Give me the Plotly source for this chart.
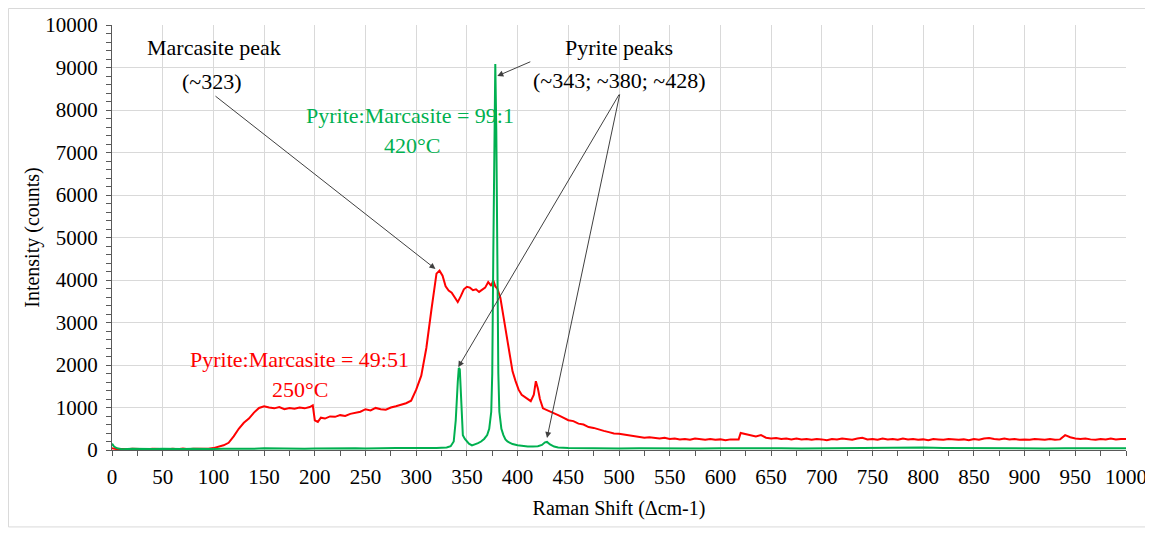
import plotly.graph_objects as go

# ---------------- data ----------------
red_x = [0, 5, 10, 15, 20, 25, 30, 35, 40, 45, 50, 55, 60, 65, 70, 75, 80, 85, 90, 95,
         100, 105, 110, 115, 120, 125, 130, 135, 140, 145, 150, 155, 160, 165, 170, 175,
         180, 185, 190, 195, 198, 200, 203, 206, 210, 215, 220, 225, 230, 235, 240, 245,
         250, 255, 260, 265, 270, 275, 280, 285, 290, 295, 300, 305, 310, 315, 318, 320,
         323, 326, 329, 332, 335, 338, 341, 344, 347, 350, 353, 356, 359, 362, 365, 368,
         371, 374, 376, 378, 380, 383, 386, 389, 392, 395, 398, 401, 404, 407, 410, 413,
         416, 418, 420, 422, 425, 430, 435, 440, 445, 450, 455, 460, 465, 470, 475, 480,
         485, 490, 495, 500, 505, 510, 515, 520, 525, 530, 535, 540, 545, 550, 555, 560,
         565, 570, 575, 580, 585, 590, 595, 600, 605, 610, 615, 618, 620, 625, 630, 635,
         640, 645, 650, 655, 660, 665, 670, 675, 680, 685, 690, 695, 700, 705, 710, 715,
         720, 725, 730, 735, 740, 745, 750, 755, 760, 765, 770, 775, 780, 785, 790, 795,
         800, 805, 810, 815, 820, 825, 830, 835, 840, 845, 850, 855, 860, 865, 870, 875,
         880, 885, 890, 895, 900, 905, 910, 915, 920, 925, 930, 935, 940, 945, 950, 955,
         960, 965, 970, 975, 980, 985, 990, 995, 1000]
red_y = [40, 20, 25, 15, 30, 20, 25, 15, 30, 20, 25, 15, 30, 20, 35, 20, 30, 25, 35, 30,
         45, 70, 110, 170, 320, 500, 640, 740, 880, 990, 1030, 1000, 980, 1010, 960, 990,
         970, 1000, 980, 1010, 1050, 700, 660, 760, 740, 790, 780, 820, 800, 850, 870, 900,
         960, 930, 990, 960, 950, 1000, 1030, 1060, 1100, 1160, 1420, 1750, 2400, 3300, 3800, 4150,
         4220, 4100, 3850, 3750, 3700, 3600, 3480, 3620, 3780, 3840, 3820, 3760, 3780, 3720, 3760, 3820,
         3950, 3860, 3990, 3850, 3800, 3580, 3150, 2700, 2250, 1850, 1620, 1420, 1300, 1250, 1200, 1150,
         1300, 1620, 1450, 1200, 980, 930, 880, 820, 760, 700, 680, 620, 600, 540, 520, 480,
         450, 420, 390, 380, 360, 340, 330, 300, 290, 300, 280, 270, 290, 260, 270, 250,
         260, 240, 270, 250, 240, 260, 240, 250, 230, 250, 240, 250, 400, 370, 340, 320,
         350, 290, 270, 280, 260, 270, 250, 270, 250, 260, 240, 260, 250, 230, 260, 250,
         270, 250, 240, 270, 290, 250, 260, 240, 270, 250, 260, 240, 270, 250, 260, 240,
         250, 230, 260, 250, 240, 260, 250, 240, 250, 230, 260, 240, 270, 280, 260, 250,
         270, 250, 260, 240, 250, 240, 260, 250, 240, 260, 240, 250, 350, 300, 270, 260,
         270, 250, 240, 260, 250, 270, 250, 260, 260]

green_x = [0, 2, 5, 10, 20, 30, 40, 50, 60, 70, 80, 90, 100, 110, 120, 130, 140, 150,
           160, 170, 180, 190, 200, 210, 220, 230, 240, 250, 260, 270, 280, 290, 300,
           310, 320, 330, 334, 337, 339, 341, 342, 343, 344, 345, 346, 348, 350, 352,
           355, 358, 361, 364, 367, 370, 372, 374, 375, 376, 377, 378, 379, 380, 381,
           382, 384, 386, 388, 390, 395, 400, 405, 410, 415, 420, 424, 427, 429, 432,
           436, 440, 450, 460, 470, 480, 490, 500, 520, 540, 560, 580, 600, 620, 640,
           660, 680, 700, 720, 740, 760, 780, 800, 820, 840, 860, 880, 900, 920, 940,
           960, 980, 1000]
green_y = [150, 80, 40, 20, 30, 20, 25, 30, 20, 25, 30, 20, 25, 30, 25, 35, 30, 40,
           35, 30, 40, 30, 35, 40, 30, 45, 40, 35, 45, 40, 50, 45, 40,
           50, 45, 60, 90, 200, 700, 1600, 1930, 1900, 1400, 700, 350, 260, 200, 150,
           110, 130, 160, 200, 260, 350, 500, 900, 1800, 4500, 7800, 9080, 7500, 4000, 1800,
           900, 500, 350, 250, 200, 140, 110, 90, 80, 80, 90, 120, 180, 190, 130,
           80, 60, 50, 45, 40, 45, 40, 35, 40, 35, 40, 35, 40, 45, 35,
           40, 35, 40, 45, 40, 50, 55, 60, 50, 45, 40, 35, 40, 35, 40,
           35, 40, 40]

x_ticks = list(range(0, 1001, 50))
y_ticks = list(range(0, 10001, 1000))

RED = "#FF0000"
GREEN = "#00B050"
FONT = "Liberation Serif"

fig = go.Figure()
fig.add_trace(go.Scatter(x=red_x, y=red_y, mode="lines",
                         line=dict(color=RED, width=2), showlegend=False))
fig.add_trace(go.Scatter(x=green_x, y=green_y, mode="lines",
                         line=dict(color=GREEN, width=2), showlegend=False))

def label(x, y, text, color="black", size=22):
    fig.add_annotation(x=x, y=y, xref="x", yref="y", text=text, showarrow=False,
                       font=dict(family=FONT, size=size, color=color),
                       xanchor="center", yanchor="middle")

def arrow(x0, y0, x1, y1):
    fig.add_annotation(x=x1, y=y1, ax=x0, ay=y0, xref="x", yref="y",
                       axref="x", ayref="y", text="", showarrow=True,
                       arrowhead=2, arrowsize=1.2, arrowwidth=1,
                       arrowcolor="#404040")

label(100.6, 9459, "Marcasite peak")
label(99, 8682, "(~323)")
label(500, 9459, "Pyrite peaks")
label(500, 8706, "(~343; ~380; ~428)")
label(294, 7882, "Pyrite:Marcasite = 99:1", GREEN)
label(296, 7176, "420°C", GREEN)
label(185, 2118, "Pyrite:Marcasite = 49:51", RED)
label(185, 1412, "250°C", RED)

arrow(100.6, 8353, 319, 4260)
arrow(501, 8400, 341.5, 1950)
arrow(501, 8400, 429, 280)
arrow(414, 9150, 380, 8800)

axis_common = dict(
    showline=True, linecolor="#595959", linewidth=1,
    showgrid=True, gridcolor="#D9D9D9", gridwidth=1,
    ticks="outside", ticklen=5, tickcolor="#595959",
    tickfont=dict(family=FONT, size=21, color="black"),
    zeroline=False, automargin=False,
)

fig.update_xaxes(range=[0, 1000], tickmode="array", tickvals=x_ticks,
                 ticktext=[str(v) for v in x_ticks],
                 ticklabelstandoff=3,
                 minor=dict(dtick=25, ticks="outside", ticklen=5,
                            tickcolor="#595959", showgrid=False),
                 title=dict(text="Raman Shift (Δcm-1)",
                            font=dict(family=FONT, size=20, color="black"),
                            standoff=12),
                 **axis_common)
fig.update_yaxes(range=[0, 10000], tickmode="array", tickvals=y_ticks,
                 ticktext=[str(v) for v in y_ticks],
                 ticklabelstandoff=4,
                 minor=dict(dtick=200, ticks="outside", ticklen=5,
                            tickcolor="#595959", showgrid=False),
                 title=dict(text="Intensity (counts)",
                            font=dict(family=FONT, size=20, color="black"),
                            standoff=0),
                 **axis_common)

fig.add_shape(type="rect", xref="paper", yref="paper",
              x0=-0.1021, x1=1.0207, y0=-0.181, y1=1.0388,
              line=dict(color="#D9D9D9", width=1))

fig.update_layout(
    width=1145, height=525,
    margin=dict(l=104, r=27, t=17, b=83),
    paper_bgcolor="white", plot_bgcolor="white",
    font=dict(family=FONT, color="black"),
)

fig.write_html("out.html")
